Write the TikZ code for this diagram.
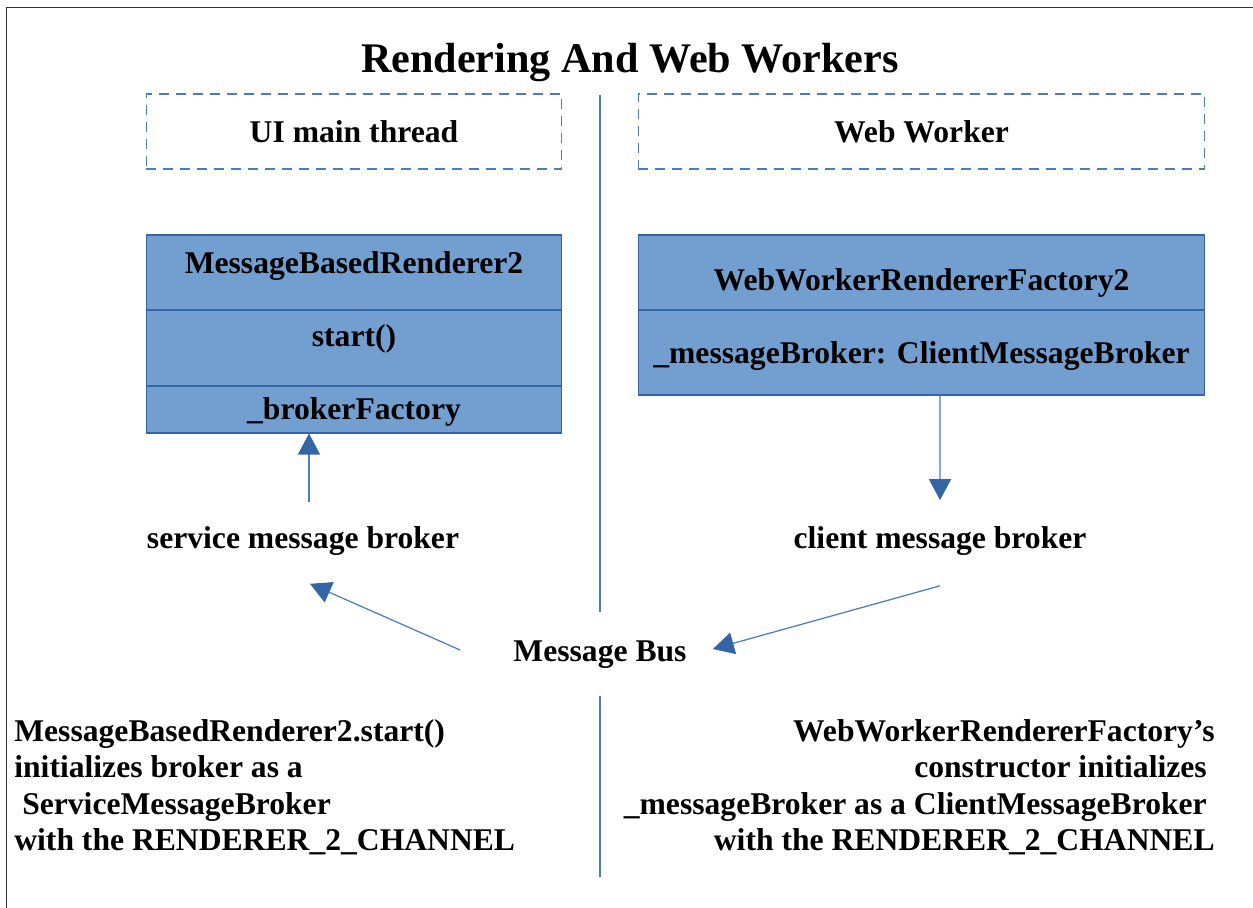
\documentclass[tikz,border=0pt]{standalone}
\usepackage{fontspec}
\setmainfont{Liberation Serif}
\usepackage{xcolor}
\usetikzlibrary{arrows.meta,calc}
\definecolor{boxblue}{HTML}{729FCF}
\definecolor{edgeblue}{HTML}{3465A4}
\definecolor{lineblue}{HTML}{4A7EBB}
\begin{document}
\begin{tikzpicture}[x=0.02cm, y=-0.02cm,
  lbl/.style = {font=\fontsize{18}{20.7}\selectfont\bfseries, inner sep=0pt},
  lane/.style = {draw=lineblue, dash pattern=on 2mm off 1.4mm, line width=0.6pt, minimum width=8.32cm, minimum height=1.5cm, inner sep=0pt, font=\fontsize{18}{20.4}\selectfont\bfseries},
  cls/.style = {draw=edgeblue, fill=boxblue, line width=0.6pt, inner sep=0pt},
  divline/.style = {draw=lineblue, line width=0.7pt},
  arr/.style = {draw=lineblue, line width=0.7pt, -{Triangle[length=4.2mm, width=4.4mm, color=edgeblue]}}]
\useasboundingbox (0,0) rectangle (1253,908);
\draw[line width=0.9pt, black!80] (6.5,908) -- (6.5,7.5) -- (1253,7.5);

\node[font=\fontsize{24}{28}\selectfont\bfseries] (title) at (630,63) {Rendering And Web Workers};

\node[lane] (ui) at (354,131.5) {UI main thread};
\node[lane, minimum width=11.34cm] (ww) at (921.5,131.5) {Web Worker};

\node[cls, minimum width=8.32cm, minimum height=3.96cm] (mbr) at (354,334) {};
\draw[draw=edgeblue, line width=0.6pt] (mbr.west |- 0,310) -- (mbr.east |- 0,310);
\draw[draw=edgeblue, line width=0.6pt] (mbr.west |- 0,386) -- (mbr.east |- 0,386);
\node[lbl] (mbrname) at (354,266) {MessageBasedRenderer2};
\node[lbl] (mbrstart) at (354,339) {start()};
\node[lbl] (mbrfac) at (354,412) {\_brokerFactory};

\node[cls, minimum width=11.34cm, minimum height=3.2cm] (wwf) at (921.5,315) {};
\draw[draw=edgeblue, line width=0.6pt] (wwf.west |- 0,310) -- (wwf.east |- 0,310);
\node[lbl] (wwfname) at (921.5,283) {WebWorkerRendererFactory2};
\node[lbl] (wwfbrk) at (921.5,356) {\_messageBroker: ClientMessageBroker};

\node[lbl] (svc) at (303,541) {service message broker};
\node[lbl] (cmb) at (940,541) {client message broker};
\node[lbl] (bus) at (600,655) {Message Bus};

\coordinate (top) at (600,95);
\coordinate (bot) at (600,877);
\draw[divline] (top) -- ($(bus.north)+(0,-29)$);
\draw[divline] ($(bus.south)+(0,27)$) -- (bot);

\draw[arr] ($(svc.north)+(6,-24)$) -- ($(mbr.south)+(-45,0)$);
\draw[arr] ($(wwf.south)+(18.5,0)$) -- ($(cmb.north)+(0,-26)$);
\draw[arr] ($(bus.west)+(-53,-5)$) -- ($(svc.south)+(7,28)$);
\draw[arr] ($(cmb.south)+(0,30)$) -- ($(bus.east)+(26,-6)$);

\node[lbl, align=left, anchor=north west] (lnote) at (14,719) {MessageBasedRenderer2.start()\\
initializes broker as a\\
\hspace*{0.25em}ServiceMessageBroker\\
with the RENDERER\_2\_CHANNEL};
\node[lbl, align=right, anchor=north east] (rnote) at (1215,719) {WebWorkerRendererFactory’s\\
constructor initializes\hbox to 0.25em{}\\
\_messageBroker as a ClientMessageBroker\hbox to 0.25em{}\\
with the RENDERER\_2\_CHANNEL};
\end{tikzpicture}
\end{document}
